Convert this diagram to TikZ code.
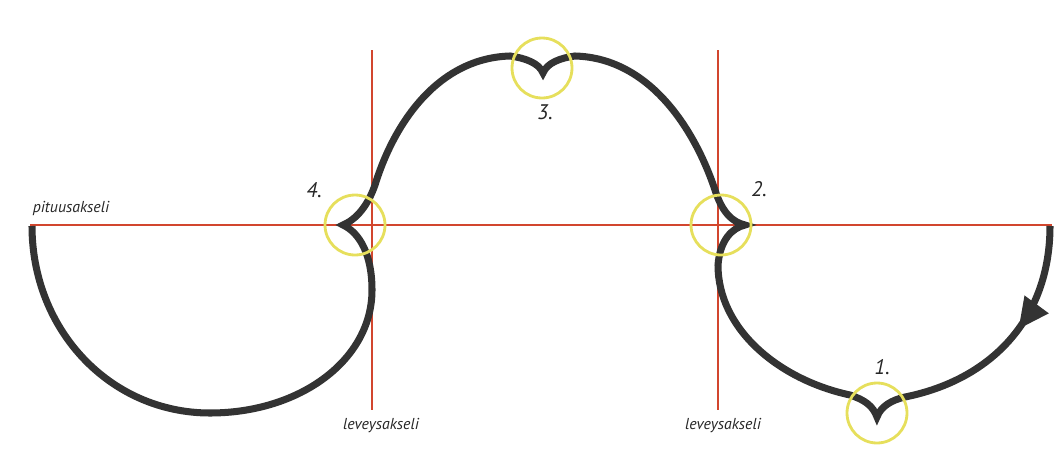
\documentclass[tikz,border=0pt]{standalone}
\usepackage{fontspec}
\usepackage{tikz}
\usetikzlibrary{arrows.meta, decorations.markings}
\newfontfamily\labelfont{PT Sans}
\definecolor{axisred}{HTML}{D2462E}
\definecolor{ringyellow}{HTML}{E6DF5C}
\definecolor{pathgray}{HTML}{333333}

\begin{document}
\begin{tikzpicture}[
    x=0.02cm, y=-0.02cm,
    axis/.style={draw=axisred, line width=1.2pt},
    ring/.style={circle, draw=ringyellow, line width=1.6pt, minimum size=1.2cm, inner sep=0pt},
    axlabel/.style={font=\labelfont\itshape\small, text=black!85, inner sep=1pt},
    numlabel/.style={font=\labelfont\itshape\large, text=black!85, inner sep=1pt},
    track/.style={draw=pathgray, line width=4pt, line join=miter},
    arrowmark/.style={postaction={decorate}, decoration={markings,
        mark=at position 2.2cm with {\arrow{Triangle[length=0.62cm, width=0.56cm]}}}},
]
    \useasboundingbox (0,0) rectangle (1062,450);

    % ── Axes ──
    \coordinate (hl) at (30,225);
    \coordinate (hr) at (1052,225);
    \coordinate (v1t) at (372,50);
    \coordinate (v1b) at (372,410);
    \coordinate (v2t) at (718,50);
    \coordinate (v2b) at (718,410);
    \draw[axis] (hl) -- (hr);
    \draw[axis] (v1t) -- (v1b);
    \draw[axis] (v2t) -- (v2b);

    % ── Axis labels ──
    \node[axlabel] (pit) at (71,208) {pituusakseli};
    \node[axlabel] (lev1) at (381,426) {leveysakseli};
    \node[axlabel] (lev2) at (723,426) {leveysakseli};

    % ── Track ──
    \draw[track, arrowmark] (1050,226) .. controls (1050,320) and (990,380) .. (905,397)
        .. controls (892,400) and (881,406) .. (877,417)
        .. controls (873,406) and (865,400) .. (850,395)
        .. controls (780,380) and (718,330) .. (718,265)
        .. controls (720,240) and (732,228) .. (745,225)
        .. controls (732,222) and (722,212) .. (715,190)
        .. controls (695,130) and (650,58) .. (575,56)
        .. controls (560,58) and (547,63) .. (543,73)
        .. controls (539,63) and (525,58) .. (510,56)
        .. controls (440,58) and (395,120) .. (375,185)
        .. controls (368,205) and (357,219) .. (343,225)
        .. controls (360,233) and (372,255) .. (372,290)
        .. controls (372,360) and (300,413) .. (210,413)
        .. controls (110,413) and (32,330) .. (32,226);

    % ── Rings and numbers ──
    \node[ring] (r1) at (877,413) {};
    \node[ring] (r2) at (721,225) {};
    \node[ring] (r3) at (542,68) {};
    \node[ring] (r4) at (355,225) {};

    \node[numlabel] (n1) at (882,367) {1.};
    \node[numlabel] (n2) at (759,189) {2.};
    \node[numlabel] (n3) at (545,112) {3.};
    \node[numlabel] (n4) at (314,190) {4.};
\end{tikzpicture}
\end{document}
